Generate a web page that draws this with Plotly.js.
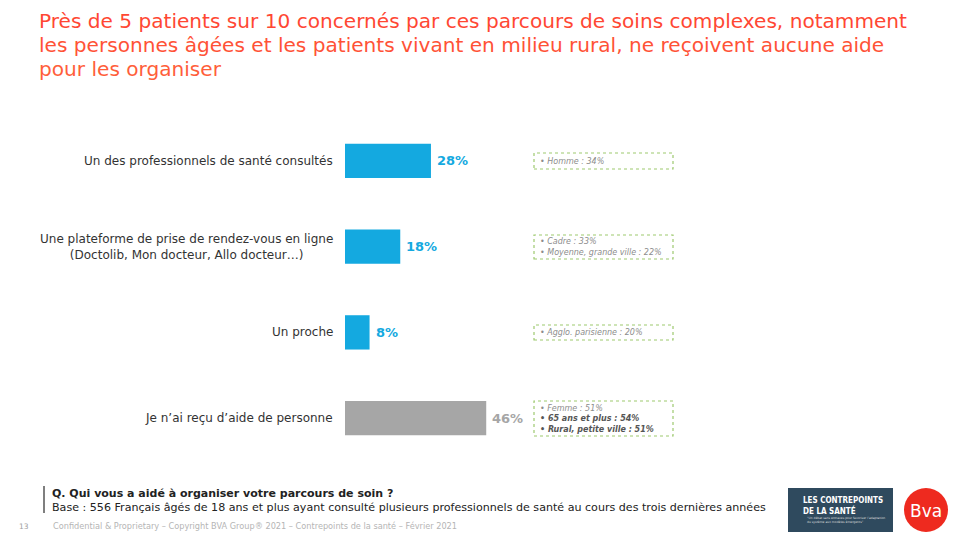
<!DOCTYPE html>
<html>
<head>
<meta charset="utf-8">
<script src="https://cdn.plot.ly/plotly-3.0.1.min.js"></script>
<style>html,body{margin:0;padding:0;background:#fff;}#chart{width:961px;height:541px;}</style>
</head>
<body>
<div id="chart"></div>
<script>
const categories = [
  "Un des professionnels de santé consultés",
  "Une plateforme de prise de rendez-vous en ligne<br>(Doctolib, Mon docteur, Allo docteur…)",
  "Un proche",
  "Je n’ai reçu d’aide de personne"
];
const values = [28, 18, 8, 46];
const valueLabels = ["28%", "18%", "8%", "46%"];
const barColors = ["#14A9E0", "#14A9E0", "#14A9E0", "#A6A6A6"];
const labelColors = ["#14A9E0", "#14A9E0", "#14A9E0", "#A6A6A6"];
const boxLines = [
  [["• Homme : 34%", false]],
  [["• Cadre : 33%", false], ["• Moyenne, grande ville : 22%", false]],
  [["• Agglo. parisienne : 20%", false]],
  [["• Femme : 51%", false], ["• 65 ans et plus : 54%", true], ["• Rural, petite ville : 51%", true]]
];
const titleLines = [
  "Près de 5 patients sur 10 concernés par ces parcours de soins complexes, notamment",
  "les personnes âgées et les patients vivant en milieu rural, ne reçoivent aucune aide",
  "pour les organiser"
];
const questionText = "Q. Qui vous a aidé à organiser votre parcours de soin ?";
const baseText = "Base : 556 Français âgés de 18 ans et plus ayant consulté plusieurs professionnels de santé au cours des trois dernières années";
const footerText = "Confidential & Proprietary – Copyright BVA Group® 2021 – Contrepoints de la santé – Février 2021";
const pageNumber = "13";

// layout geometry (pixels)
const W = 961, H = 541, L = 345, R = 0, T = 118, B = 80;
const PW = W - L - R, PH = H - T - B;
const pxPerUnit = 3.07;
const px = x => (x - L) / PW;
const py = y => (H - B - y) / PH;
const FONT = "DejaVu Sans, Verdana, sans-serif";
const FONTC = "DejaVu Sans Condensed, DejaVu Sans, sans-serif";

const yIdx = categories.map((c, i) => i);

const trace = {
  type: "bar",
  orientation: "h",
  y: yIdx,
  x: values,
  marker: {color: barColors},
  width: 0.4,
  hoverinfo: "none"
};

const annotations = [];
const shapes = [];

// title
const titleColors = ["#FF4733", "#FF5236", "#FF5E3A"];
titleLines.forEach((t, i) => {
  annotations.push({
    x: px(37), xref: "paper", y: py(21 + i * 24), yref: "paper",
    text: t, showarrow: false, xanchor: "left", yanchor: "middle", align: "left",
    font: {family: FONT, size: 20.1, color: titleColors[i]}
  });
});

// category labels
categories.forEach((c, i) => {
  annotations.push({
    x: px(335), xref: "paper", y: i, yref: "y",
    text: c, showarrow: false, xanchor: "right", yanchor: "middle", align: "center",
    font: {family: FONT, size: 12, color: "#333333"}
  });
  annotations.push({
    x: values[i], xref: "x", y: i, yref: "y", xshift: 4,
    text: "<b>" + valueLabels[i] + "</b>", showarrow: false, xanchor: "left", yanchor: "middle",
    font: {family: FONT, size: 13, color: labelColors[i]}
  });
});

// side boxes
const boxes = [[153, 169], [235, 259], [325, 340], [401, 436]];
boxes.forEach((b, i) => {
  shapes.push({
    type: "rect", xref: "paper", yref: "paper",
    x0: px(534), x1: px(673), y0: py(b[1]), y1: py(b[0]),
    line: {color: "#9DC96F", width: 1.2, dash: "dot"}, fillcolor: "rgba(0,0,0,0)"
  });
  const lines = boxLines[i];
  const lh = 10.5;
  const mid = (b[0] + b[1]) / 2;
  lines.forEach((ln, j) => {
    const yy = mid + (j - (lines.length - 1) / 2) * lh;
    annotations.push({
      x: px(538), xref: "paper", y: py(yy), yref: "paper",
      text: ln[1] ? "<b><i>" + ln[0] + "</i></b>" : "<i>" + ln[0] + "</i>",
      showarrow: false, xanchor: "left", yanchor: "middle",
      font: {family: FONT, size: 8, color: ln[1] ? "#555555" : "#8C8C8C"}
    });
  });
});

// footer
shapes.push({type: "line", xref: "paper", yref: "paper", x0: px(44), x1: px(44), y0: py(486), y1: py(513), line: {color: "#555555", width: 1.5}});
annotations.push({x: px(50), xref: "paper", y: py(493), yref: "paper", text: "<b>" + questionText + "</b>", showarrow: false, xanchor: "left", yanchor: "middle", font: {family: FONT, size: 11, color: "#222222"}});
annotations.push({x: px(50), xref: "paper", y: py(507), yref: "paper", text: baseText, showarrow: false, xanchor: "left", yanchor: "middle", font: {family: FONT, size: 11.1, color: "#222222"}});
annotations.push({x: px(17), xref: "paper", y: py(526), yref: "paper", text: pageNumber, showarrow: false, xanchor: "left", yanchor: "middle", font: {family: FONT, size: 7.5, color: "#A0A0A0"}});
annotations.push({x: px(51), xref: "paper", y: py(526), yref: "paper", text: footerText, showarrow: false, xanchor: "left", yanchor: "middle", font: {family: FONT, size: 8.2, color: "#B5B5B5"}});

// logos
shapes.push({type: "rect", xref: "paper", yref: "paper", x0: px(788), x1: px(893), y0: py(532), y1: py(488), line: {width: 0}, fillcolor: "#2F4A5E"});
annotations.push({x: px(801), xref: "paper", y: py(500), yref: "paper", text: "<b>LES CONTREPOINTS</b>", showarrow: false, xanchor: "left", yanchor: "middle", font: {family: FONTC, size: 8, color: "#FFFFFF"}});
annotations.push({x: px(801), xref: "paper", y: py(510), yref: "paper", text: "<b>DE LA SANTÉ</b>", showarrow: false, xanchor: "left", yanchor: "middle", font: {family: FONTC, size: 8, color: "#FFFFFF"}});
annotations.push({x: px(805), xref: "paper", y: py(520), yref: "paper", text: "“Un débat sans entraves pour favoriser l’adaptation<br>du système aux modèles émergents”", showarrow: false, xanchor: "left", yanchor: "middle", align: "left", font: {family: FONT, size: 3, color: "#DDDDDD"}});
shapes.push({type: "circle", xref: "paper", yref: "paper", x0: px(904), x1: px(948), y0: py(532), y1: py(488), line: {width: 0}, fillcolor: "#EE2A1F"});
annotations.push({x: px(926), xref: "paper", y: py(511), yref: "paper", text: "Bva", showarrow: false, xanchor: "center", yanchor: "middle", font: {family: FONT, size: 17, color: "#FFFFFF"}});

const layout = {
  width: W, height: H,
  margin: {l: L, r: R, t: T, b: B, pad: 0},
  paper_bgcolor: "#FFFFFF", plot_bgcolor: "#FFFFFF",
  showlegend: false,
  xaxis: {range: [0, PW / pxPerUnit], visible: false, fixedrange: true},
  yaxis: {range: [3.5, -0.5], visible: false, fixedrange: true},
  annotations: annotations,
  shapes: shapes
};

Plotly.newPlot("chart", [trace], layout, {displayModeBar: false, staticPlot: true});
</script>
</body>
</html>
